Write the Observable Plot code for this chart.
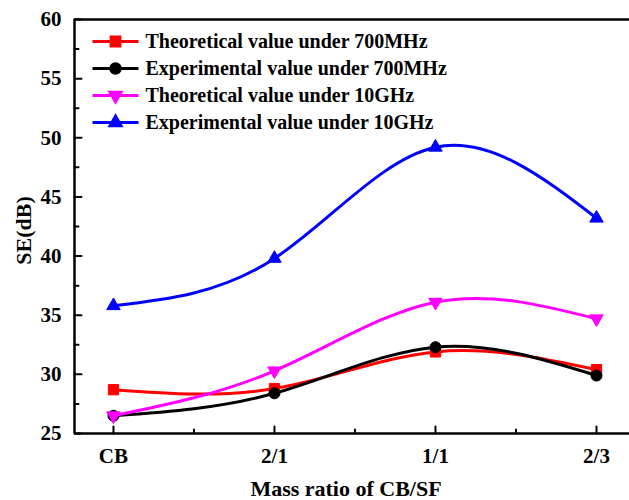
<!DOCTYPE html>
<html><head><meta charset="utf-8">
<script src="https://cdn.jsdelivr.net/npm/d3@7"></script>
<script src="https://cdn.jsdelivr.net/npm/@observablehq/plot@0.6"></script>
<style>
body{margin:0;background:#fff}
#chart svg{font-family:"Liberation Serif","Times New Roman",serif;font-weight:bold}
#chart svg text{font-weight:bold !important}
</style>
</head><body><div id="chart"></div>
<script>
const categories = ["CB", "2/1", "1/1", "2/3"];
const seriesNames = [
  "Theoretical value under 700MHz",
  "Experimental value under 700MHz",
  "Theoretical value under 10GHz",
  "Experimental value under 10GHz"
];
const seriesColors = ["#ff0000", "#000000", "#ff00ff", "#0000ff"];
const seriesSymbols = ["square", "circle", "triangle", "triangle"];
const seriesRotate = [0, 0, 180, 0];
const seriesRadius = [5.8, 5.5, 5, 5];
const theo700 = [28.7, 28.8, 31.9, 30.4];
const exp700  = [26.5, 28.4, 32.3, 29.9];
const theo10G = [26.5, 30.3, 36.1, 34.7];
const exp10G  = [35.8, 39.8, 49.2, 43.2];
const seriesValues = [theo700, exp700, theo10G, exp10G];
const yTicks = [25, 30, 35, 40, 45, 50, 55, 60];
const yMinor = [27.5, 32.5, 37.5, 42.5, 47.5, 52.5, 57.5];
const xTicks = [1, 2, 3, 4];
const xMinor = [1.5, 2.5, 3.5];

const xDomain = [0.758, 4.205];
const yDomain = [25, 60];

const tickShape = {draw(ctx, l) { ctx.moveTo(0, 0); ctx.lineTo(0, -l); }};

const marks = [];
// frame lines
marks.push(Plot.ruleY([yDomain[1]], {strokeWidth: 2.5}));
marks.push(Plot.ruleY([yDomain[0]], {strokeWidth: 2.5}));
marks.push(Plot.ruleX([xDomain[0]], {strokeWidth: 2.5}));
// inward ticks
marks.push(Plot.vector(yTicks, {x: xDomain[0], y: d => d, length: 7, rotate: 90, anchor: "start", shape: tickShape, stroke: "#000", strokeWidth: 2}));
marks.push(Plot.vector(yMinor, {x: xDomain[0], y: d => d, length: 4, rotate: 90, anchor: "start", shape: tickShape, stroke: "#000", strokeWidth: 2}));
marks.push(Plot.vector(xTicks, {x: d => d, y: yDomain[0], length: 7, rotate: 0, anchor: "start", shape: tickShape, stroke: "#000", strokeWidth: 2}));
marks.push(Plot.vector(xMinor, {x: d => d, y: yDomain[0], length: 4, rotate: 0, anchor: "start", shape: tickShape, stroke: "#000", strokeWidth: 2}));
// tick labels
marks.push(Plot.axisY(yTicks, {tickSize: 0, tickPadding: 13, fontSize: 21, fontWeight: "bold", fill: "#000", label: null}));
marks.push(Plot.axisX(xTicks, {tickSize: 0, tickPadding: 15, fontSize: 21, fontWeight: "bold", fill: "#000", tickFormat: d => categories[d - 1], label: null}));
// axis titles
marks.push(Plot.text(["SE(dB)"], {frameAnchor: "left", dx: -51, dy: 4, rotate: -90, fontSize: 22, fontWeight: "bold", fill: "#000", textAnchor: "middle", lineAnchor: "middle"}));
marks.push(Plot.text(["Mass ratio of CB/SF"], {frameAnchor: "bottom", dy: 55, dx: -6, fontSize: 22, fontWeight: "bold", fill: "#000", textAnchor: "middle", lineAnchor: "middle"}));

// data series
seriesNames.forEach((name, i) => {
  const rows = categories.map((c, j) => ({series: name, x: j + 1, y: seriesValues[i][j]}));
  marks.push(Plot.line(rows, {x: "x", y: "y", curve: "natural", stroke: seriesColors[i], strokeWidth: 3}));
  marks.push(Plot.dot(rows, {x: "x", y: "y", symbol: seriesSymbols[i], r: seriesRadius[i], fill: seriesColors[i], stroke: seriesColors[i], strokeWidth: 1, rotate: seriesRotate[i]}));
});

// legend
const legendLine = {draw(ctx) { ctx.moveTo(-23, 0); ctx.lineTo(23, 0); }};
seriesNames.forEach((name, i) => {
  const dy = 22 + 27 * i;
  marks.push(Plot.dot([name], {frameAnchor: "top-left", dx: 41, dy, symbol: legendLine, stroke: seriesColors[i], strokeWidth: 3, fill: "none"}));
  marks.push(Plot.dot([name], {frameAnchor: "top-left", dx: 41, dy, symbol: seriesSymbols[i], r: seriesRadius[i], fill: seriesColors[i], stroke: seriesColors[i], rotate: seriesRotate[i]}));
  marks.push(Plot.text([name], {frameAnchor: "top-left", dx: 71, dy, text: d => d, fontSize: 20, fontWeight: "bold", fill: "#000", textAnchor: "start", lineAnchor: "middle"}));
});

const chart = Plot.plot({
  width: 629,
  height: 500,
  marginLeft: 74,
  marginRight: 0,
  marginTop: 19,
  marginBottom: 67,
  x: {type: "linear", domain: xDomain, axis: null},
  y: {type: "linear", domain: yDomain, axis: null},
  style: {background: "#fff", color: "#000", fontFamily: "Liberation Serif", fontWeight: "bold", overflow: "visible"},
  marks
});
document.getElementById("chart").appendChild(chart);
</script>
</body></html>
